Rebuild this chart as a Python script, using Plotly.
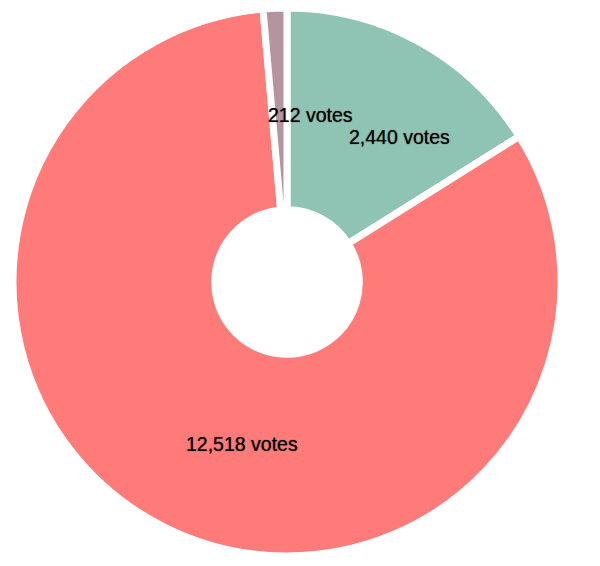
import plotly.graph_objects as go

categories = ["Option A", "Option B", "Option C"]
votes = [2440, 12518, 212]
colors = ["#8fc4b4", "#ff7b7a", "#b5939f"]
# label anchor positions (paper coords) for each slice's text
label_x = [0.6517, 0.3907, 0.5047]
label_y = [0.7721, 0.2296, 0.8111]

fig = go.Figure(go.Pie(
    labels=categories,
    values=votes,
    sort=False,
    direction="clockwise",
    rotation=0,
    hole=0.264,
    marker=dict(colors=colors, line=dict(color="white", width=7)),
    textinfo="none",
    hoverinfo="label+value",
    domain=dict(x=[0.00833, 0.92167], y=[0.0318, 1.0]),
))

for v, x, y in zip(votes, label_x, label_y):
    fig.add_annotation(
        x=x, y=y, xref="paper", yref="paper",
        text=f"{v:,} votes", showarrow=False,
        font=dict(family="Liberation Sans, Arial, sans-serif", size=19.5, color="#000000",
                  shadow="0px 0px 1px rgba(0,0,0,0.7)"),
        xanchor="center", yanchor="middle",
    )

fig.update_layout(
    width=600, height=566,
    margin=dict(l=0, r=0, t=0, b=0),
    showlegend=False,
    paper_bgcolor="white",
    plot_bgcolor="white",
)

fig.write_html("out.html")
